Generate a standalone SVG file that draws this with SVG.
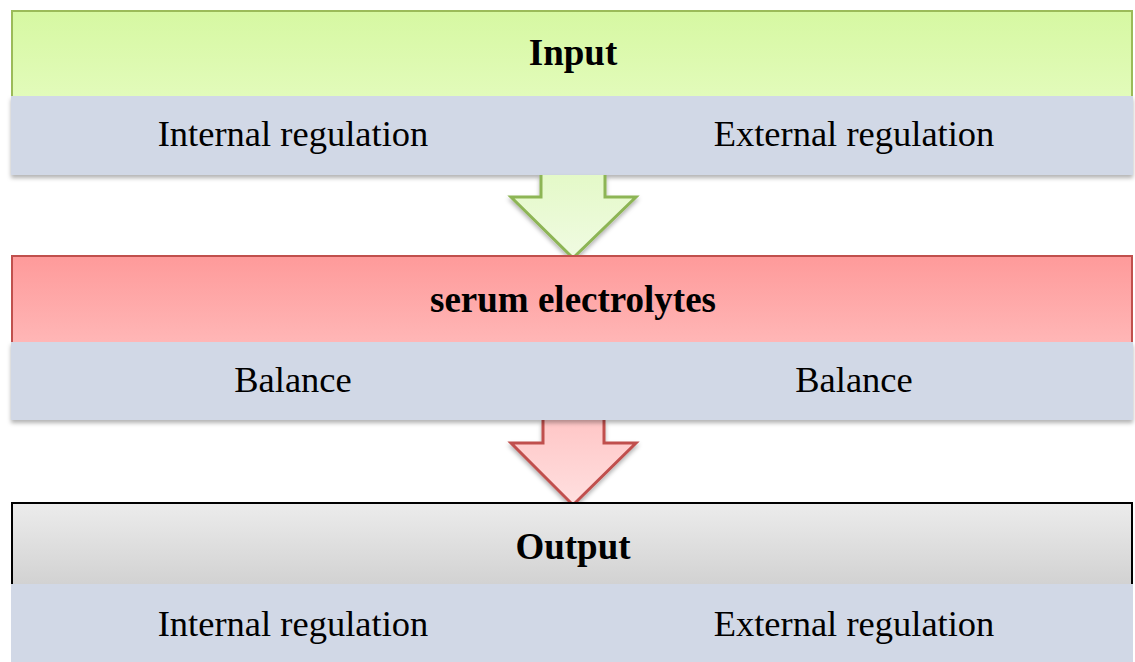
<svg xmlns="http://www.w3.org/2000/svg" width="1135" height="662" viewBox="0 0 1135 662">
<defs>
<linearGradient id="gGreen" x1="0" y1="0" x2="0" y2="1"><stop offset="0" stop-color="#d6f8a2"/><stop offset="1" stop-color="#e2fbba"/></linearGradient>
<linearGradient id="gRed" x1="0" y1="0" x2="0" y2="1"><stop offset="0" stop-color="#fe9a9a"/><stop offset="1" stop-color="#ffb6b6"/></linearGradient>
<linearGradient id="gGray" x1="0" y1="0" x2="0" y2="1"><stop offset="0" stop-color="#ececec"/><stop offset="1" stop-color="#d2d2d2"/></linearGradient>
<linearGradient id="gArrG" x1="0" y1="0" x2="0" y2="1"><stop offset="0" stop-color="#e4f9c8"/><stop offset="1" stop-color="#f0fbe2"/></linearGradient>
<linearGradient id="gArrR" x1="0" y1="0" x2="0" y2="1"><stop offset="0" stop-color="#ffc6c6"/><stop offset="1" stop-color="#ffe0e0"/></linearGradient>
<filter id="sh" x="-5%" y="-20%" width="110%" height="150%"><feDropShadow dx="0" dy="3" stdDeviation="2" flood-color="#000" flood-opacity="0.3"/></filter>
</defs>
<style>
.band{fill:#d1d8e6;}
.t{font-family:"Liberation Serif","Times New Roman",serif;font-size:36.5px;fill:#000;text-anchor:middle;}
.b{font-weight:bold;font-size:37px;}
</style>
<rect width="1135" height="662" fill="#fff"/>
<g id="input">
<rect x="11" y="96" width="1122" height="79" class="band" filter="url(#sh)"/>
<rect x="12" y="11" width="1120" height="85" fill="url(#gGreen)"/>
<path d="M12 96 V11 H1132 V96" fill="none" stroke="#9bbb59" stroke-width="2"/>
<text class="t b" x="573" y="65">Input</text>
<text class="t" x="293" y="146">Internal regulation</text>
<text class="t" x="854" y="146">External regulation</text>
</g>
<g id="connectors">
<path d="M541 175 V197 H511 L573 258 L636 197 H605 V175" fill="url(#gArrG)" stroke="#8db555" stroke-width="3" filter="url(#sh)"/>
<path d="M543 420 V443 H511 L573 505 L636 443 H604 V420" fill="url(#gArrR)" stroke="#c0504d" stroke-width="3" filter="url(#sh)"/>
</g>
<g id="serum">
<rect x="11" y="342" width="1122" height="78" class="band" filter="url(#sh)"/>
<rect x="12" y="256" width="1120" height="86" fill="url(#gRed)"/>
<path d="M12 342 V256 H1132 V342" fill="none" stroke="#c0504d" stroke-width="2"/>
<text class="t b" x="573" y="312">serum electrolytes</text>
<text class="t" x="293" y="392">Balance</text>
<text class="t" x="854" y="392">Balance</text>
</g>
<g id="output">
<rect x="11" y="584" width="1122" height="78" class="band"/>
<rect x="12" y="503" width="1120" height="81" fill="url(#gGray)"/>
<path d="M12 584 V503 H1132 V584" fill="none" stroke="#000" stroke-width="2"/>
<text class="t b" x="573" y="559">Output</text>
<text class="t" x="293" y="636">Internal regulation</text>
<text class="t" x="854" y="636">External regulation</text>
</g>
</svg>
